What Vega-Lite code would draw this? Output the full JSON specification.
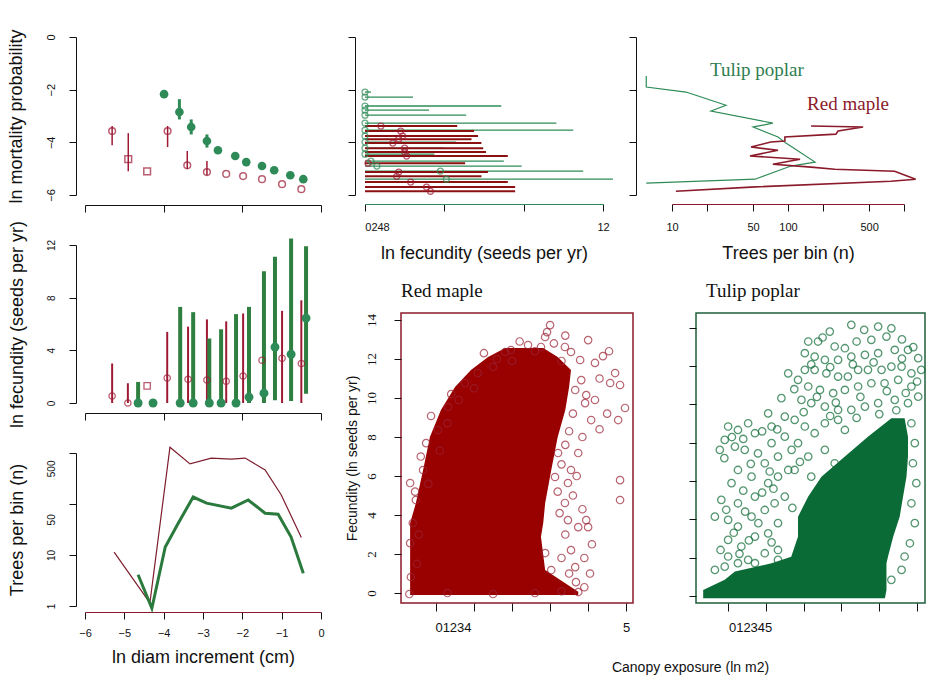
{
  "$schema": "https://vega.github.io/schema/vega-lite/v6.json",
  "background": "white",
  "padding": {"left": 7, "top": 28, "right": 0, "bottom": 0},
  "bounds": "flush",
  "spacing": 280,
  "datasets": {
    "mort": [
      {"sp": "Red maple", "x": -5.31, "y": -3.57, "lo": -4.11, "hi": -3.38, "sample": "normal"},
      {"sp": "Red maple", "x": -4.9, "y": -4.64, "lo": -5.1, "hi": -3.65, "sample": "small"},
      {"sp": "Red maple", "x": -4.42, "y": -5.1, "sample": "small"},
      {"sp": "Red maple", "x": -3.9, "y": -3.57, "lo": -4.18, "hi": -3.38, "sample": "normal"},
      {"sp": "Red maple", "x": -3.4, "y": -4.87, "lo": -5.02, "hi": -4.33, "sample": "normal"},
      {"sp": "Red maple", "x": -2.9, "y": -5.13, "lo": -5.25, "hi": -4.71, "sample": "normal"},
      {"sp": "Red maple", "x": -2.41, "y": -5.2, "sample": "normal"},
      {"sp": "Red maple", "x": -1.98, "y": -5.28, "sample": "normal"},
      {"sp": "Red maple", "x": -1.5, "y": -5.4, "sample": "normal"},
      {"sp": "Red maple", "x": -0.99, "y": -5.59, "sample": "normal"},
      {"sp": "Red maple", "x": -0.5, "y": -5.78, "sample": "normal"},
      {"sp": "Tulip poplar", "x": -3.99, "y": -2.17, "lo": -2.3, "hi": -2.05, "sample": "normal"},
      {"sp": "Tulip poplar", "x": -3.6, "y": -2.85, "lo": -3.13, "hi": -2.36, "sample": "normal"},
      {"sp": "Tulip poplar", "x": -3.3, "y": -3.42, "lo": -3.7, "hi": -3.13, "sample": "normal"},
      {"sp": "Tulip poplar", "x": -2.9, "y": -3.95, "lo": -4.2, "hi": -3.7, "sample": "normal"},
      {"sp": "Tulip poplar", "x": -2.62, "y": -4.3, "sample": "normal"},
      {"sp": "Tulip poplar", "x": -2.18, "y": -4.52, "sample": "normal"},
      {"sp": "Tulip poplar", "x": -1.9, "y": -4.75, "sample": "normal"},
      {"sp": "Tulip poplar", "x": -1.5, "y": -4.9, "sample": "normal"},
      {"sp": "Tulip poplar", "x": -1.19, "y": -5.06, "sample": "normal"},
      {"sp": "Tulip poplar", "x": -0.78, "y": -5.25, "sample": "normal"},
      {"sp": "Tulip poplar", "x": -0.45, "y": -5.4, "sample": "normal"}
    ],
    "fec": [
      {"sp": "Red maple", "x": -5.31, "y": 0.53, "lo": 0, "hi": 3.0, "sample": "normal"},
      {"sp": "Red maple", "x": -4.91, "y": 0, "lo": 0, "hi": 1.5, "sample": "normal"},
      {"sp": "Red maple", "x": -4.42, "y": 1.3, "sample": "small"},
      {"sp": "Red maple", "x": -3.91, "y": 1.9, "lo": 0, "hi": 5.4, "sample": "normal"},
      {"sp": "Red maple", "x": -3.38, "y": 1.8, "lo": 0, "hi": 5.8, "sample": "normal"},
      {"sp": "Red maple", "x": -2.9, "y": 1.75, "lo": 0, "hi": 6.35, "sample": "normal"},
      {"sp": "Red maple", "x": -2.41, "y": 1.65, "lo": 0, "hi": 6.2, "sample": "normal"},
      {"sp": "Red maple", "x": -1.98, "y": 2.05, "lo": 0, "hi": 6.8, "sample": "normal"},
      {"sp": "Red maple", "x": -1.5, "y": 3.25, "sample": "normal"},
      {"sp": "Red maple", "x": -0.99, "y": 3.4, "lo": 0, "hi": 7.0, "sample": "normal"},
      {"sp": "Red maple", "x": -0.5, "y": 3.0, "lo": 0, "hi": 7.8, "sample": "normal"},
      {"sp": "Tulip poplar", "x": -4.65, "y": 0, "lo": 0, "hi": 1.6, "sample": "normal"},
      {"sp": "Tulip poplar", "x": -4.27, "y": 0, "sample": "normal"},
      {"sp": "Tulip poplar", "x": -3.58, "y": 0, "lo": 0, "hi": 7.3, "sample": "normal"},
      {"sp": "Tulip poplar", "x": -3.25, "y": 0, "lo": 0, "hi": 6.9, "sample": "normal"},
      {"sp": "Tulip poplar", "x": -2.84, "y": 0, "lo": 0, "hi": 4.9, "sample": "normal"},
      {"sp": "Tulip poplar", "x": -2.54, "y": 0, "lo": 0, "hi": 5.6, "sample": "normal"},
      {"sp": "Tulip poplar", "x": -2.16, "y": 0, "lo": 0, "hi": 6.75, "sample": "normal"},
      {"sp": "Tulip poplar", "x": -1.83, "y": 0.45, "lo": 0, "hi": 7.3, "sample": "normal"},
      {"sp": "Tulip poplar", "x": -1.45, "y": 0.75, "lo": 0, "hi": 10.0, "sample": "normal"},
      {"sp": "Tulip poplar", "x": -1.17, "y": 4.25, "lo": 0.2, "hi": 11.1, "sample": "normal"},
      {"sp": "Tulip poplar", "x": -0.76, "y": 3.7, "lo": 0.15, "hi": 12.5, "sample": "normal"},
      {"sp": "Tulip poplar", "x": -0.38, "y": 6.45, "lo": 0.7, "hi": 11.9, "sample": "normal"}
    ],
    "trees": [
      {"sp": "Red maple", "x": -5.26, "n": 11.4},
      {"sp": "Red maple", "x": -4.35, "n": 1.15},
      {"sp": "Red maple", "x": -3.84, "n": 1300},
      {"sp": "Red maple", "x": -3.33, "n": 610},
      {"sp": "Red maple", "x": -2.79, "n": 795},
      {"sp": "Red maple", "x": -2.28, "n": 760},
      {"sp": "Red maple", "x": -1.93, "n": 795},
      {"sp": "Red maple", "x": -1.42, "n": 465},
      {"sp": "Red maple", "x": -1.01, "n": 150},
      {"sp": "Red maple", "x": -0.5, "n": 22},
      {"sp": "Tulip poplar", "x": -4.65, "n": 4.1},
      {"sp": "Tulip poplar", "x": -4.3, "n": 0.9},
      {"sp": "Tulip poplar", "x": -3.96, "n": 14.4},
      {"sp": "Tulip poplar", "x": -3.63, "n": 42},
      {"sp": "Tulip poplar", "x": -3.25, "n": 137},
      {"sp": "Tulip poplar", "x": -2.91, "n": 104},
      {"sp": "Tulip poplar", "x": -2.28, "n": 83},
      {"sp": "Tulip poplar", "x": -1.85, "n": 120},
      {"sp": "Tulip poplar", "x": -1.42, "n": 66},
      {"sp": "Tulip poplar", "x": -1.09, "n": 63},
      {"sp": "Tulip poplar", "x": -0.76, "n": 22.5},
      {"sp": "Tulip poplar", "x": -0.45, "n": 4.4}
    ],
    "fecbin": [
      {"sp": "Tulip poplar", "m": -2.09, "lo": 0, "hi": 0.3, "est": 0},
      {"sp": "Tulip poplar", "m": -2.28, "lo": 0, "hi": 2.42, "est": 0},
      {"sp": "Tulip poplar", "m": -2.62, "lo": 0, "hi": 6.87, "est": 0},
      {"sp": "Tulip poplar", "m": -2.78, "lo": 0, "hi": 3.23, "est": 0},
      {"sp": "Tulip poplar", "m": -2.97, "lo": 0, "hi": 5.1, "est": 0},
      {"sp": "Tulip poplar", "m": -3.27, "lo": 0, "hi": 9.65, "est": 0},
      {"sp": "Tulip poplar", "m": -3.54, "lo": 0, "hi": 10.5, "est": 0},
      {"sp": "Tulip poplar", "m": -3.76, "lo": 0, "hi": 4.0, "est": 0},
      {"sp": "Tulip poplar", "m": -3.99, "lo": 0, "hi": 4.6, "est": 0},
      {"sp": "Tulip poplar", "m": -4.22, "lo": 0, "hi": 4.0, "est": 0},
      {"sp": "Tulip poplar", "m": -4.45, "lo": 0, "hi": 3.5, "est": 0},
      {"sp": "Tulip poplar", "m": -4.71, "lo": 0, "hi": 7.0, "est": 0.3},
      {"sp": "Tulip poplar", "m": -4.9, "lo": 0, "hi": 7.9, "est": 0.6},
      {"sp": "Tulip poplar", "m": -5.09, "lo": 0, "hi": 11.0, "est": 3.8},
      {"sp": "Tulip poplar", "m": -5.4, "lo": 0, "hi": 12.5, "est": 4.1},
      {"sp": "Red maple", "m": -3.38, "lo": 0, "hi": 4.65, "est": 0.8},
      {"sp": "Red maple", "m": -3.57, "lo": 0, "hi": 5.5, "est": 1.8},
      {"sp": "Red maple", "m": -3.76, "lo": 0, "hi": 5.7, "est": 1.9},
      {"sp": "Red maple", "m": -3.88, "lo": 0, "hi": 5.37, "est": 1.7},
      {"sp": "Red maple", "m": -4.03, "lo": 0, "hi": 5.87, "est": 1.4},
      {"sp": "Red maple", "m": -4.22, "lo": 0, "hi": 5.96, "est": 2.0},
      {"sp": "Red maple", "m": -4.37, "lo": 0, "hi": 6.1, "est": 2.0},
      {"sp": "Red maple", "m": -4.52, "lo": 0, "hi": 7.2, "est": 2.1},
      {"sp": "Red maple", "m": -4.79, "lo": 0, "hi": 5.05, "est": 0.15},
      {"sp": "Red maple", "m": -5.13, "lo": 0, "hi": 6.2, "est": 1.7},
      {"sp": "Red maple", "m": -5.29, "lo": 0, "hi": 5.87, "est": 1.6},
      {"sp": "Red maple", "m": -5.51, "lo": 0, "hi": 7.2, "est": 2.3},
      {"sp": "Red maple", "m": -5.7, "lo": 0, "hi": 7.57, "est": 3.1},
      {"sp": "Red maple", "m": -5.86, "lo": 0, "hi": 7.57, "est": 3.3}
    ],
    "nbin": [
      {"sp": "Tulip poplar", "i": 1, "n": 6.0, "m": -1.48},
      {"sp": "Tulip poplar", "i": 2, "n": 6.0, "m": -1.9},
      {"sp": "Tulip poplar", "i": 3, "n": 13.2, "m": -2.09},
      {"sp": "Tulip poplar", "i": 4, "n": 16.8, "m": -2.24},
      {"sp": "Tulip poplar", "i": 5, "n": 29.2, "m": -2.59},
      {"sp": "Tulip poplar", "i": 6, "n": 21.7, "m": -2.81},
      {"sp": "Tulip poplar", "i": 7, "n": 74, "m": -3.27},
      {"sp": "Tulip poplar", "i": 8, "n": 50, "m": -3.42},
      {"sp": "Tulip poplar", "i": 9, "n": 82, "m": -3.8},
      {"sp": "Tulip poplar", "i": 10, "n": 96, "m": -4.03},
      {"sp": "Tulip poplar", "i": 11, "n": 171, "m": -4.75},
      {"sp": "Tulip poplar", "i": 12, "n": 106, "m": -4.9},
      {"sp": "Tulip poplar", "i": 13, "n": 52, "m": -5.4},
      {"sp": "Tulip poplar", "i": 14, "n": 6.0, "m": -5.55},
      {"sp": "Red maple", "i": 1, "n": 158, "m": -3.38},
      {"sp": "Red maple", "i": 2, "n": 444, "m": -3.42},
      {"sp": "Red maple", "i": 3, "n": 270, "m": -3.57},
      {"sp": "Red maple", "i": 4, "n": 259, "m": -3.69},
      {"sp": "Red maple", "i": 5, "n": 94, "m": -3.8},
      {"sp": "Red maple", "i": 6, "n": 94, "m": -3.95},
      {"sp": "Red maple", "i": 7, "n": 71, "m": -3.99},
      {"sp": "Red maple", "i": 8, "n": 48, "m": -4.18},
      {"sp": "Red maple", "i": 9, "n": 82, "m": -4.3},
      {"sp": "Red maple", "i": 10, "n": 47, "m": -4.52},
      {"sp": "Red maple", "i": 11, "n": 127, "m": -4.64},
      {"sp": "Red maple", "i": 12, "n": 74, "m": -4.83},
      {"sp": "Red maple", "i": 13, "n": 158, "m": -4.94},
      {"sp": "Red maple", "i": 14, "n": 253, "m": -5.02},
      {"sp": "Red maple", "i": 15, "n": 830, "m": -5.1},
      {"sp": "Red maple", "i": 16, "n": 1260, "m": -5.4},
      {"sp": "Red maple", "i": 17, "n": 770, "m": -5.48},
      {"sp": "Red maple", "i": 18, "n": 48, "m": -5.7},
      {"sp": "Red maple", "i": 19, "n": 10.8, "m": -5.86}
    ],
    "nlabels": [
      {"sp": "Tulip poplar", "label": "Tulip poplar", "n": 54, "m": -1.25},
      {"sp": "Red maple", "label": "Red maple", "n": 329, "m": -2.55}
    ],
    "rm_core": [
      {"fec": -0.1, "xl": -0.68, "xr": 3.74},
      {"fec": 0.07, "xl": -0.68, "xr": 3.74},
      {"fec": 1.18, "xl": -0.68, "xr": 2.87},
      {"fec": 2.89, "xl": -0.68, "xr": 2.76},
      {"fec": 3.59, "xl": -0.68, "xr": 2.82},
      {"fec": 4.6, "xl": -0.53, "xr": 2.87},
      {"fec": 6.3, "xl": -0.34, "xr": 3.03},
      {"fec": 8.0, "xl": -0.16, "xr": 3.2},
      {"fec": 9.38, "xl": 0.13, "xr": 3.4},
      {"fec": 10.56, "xl": 0.5, "xr": 3.5},
      {"fec": 11.44, "xl": 0.92, "xr": 3.55},
      {"fec": 12.1, "xl": 1.37, "xr": 3.2},
      {"fec": 12.56, "xl": 1.82, "xr": 2.82}
    ],
    "rm_pts": [
      {"ce": 3.0, "fec": 13.74}, {"ce": 2.92, "fec": 13.38}, {"ce": 2.87, "fec": 13.13}, {"ce": 1.26, "fec": 12.3},
      {"ce": 4.0, "fec": 12.97}, {"ce": 4.39, "fec": 12.15}, {"ce": 4.18, "fec": 11.8}, {"ce": 4.71, "fec": 11.28},
      {"ce": 4.84, "fec": 10.67}, {"ce": 4.58, "fec": 10.77}, {"ce": 4.97, "fec": 9.49}, {"ce": 4.79, "fec": 8.87},
      {"ce": 3.95, "fec": 10.15}, {"ce": 3.92, "fec": 9.74}, {"ce": 4.18, "fec": 9.9}, {"ce": 4.08, "fec": 8.87},
      {"ce": 3.74, "fec": 7.18}, {"ce": 3.55, "fec": 6.31}, {"ce": 3.47, "fec": 5.64}, {"ce": 3.39, "fec": 4.62},
      {"ce": 3.47, "fec": 3.74}, {"ce": 3.95, "fec": 3.74}, {"ce": 4.0, "fec": 3.38}, {"ce": 3.74, "fec": 3.38},
      {"ce": 3.55, "fec": 2.2}, {"ce": 3.66, "fec": 1.33}, {"ce": 3.68, "fec": 0.56}, {"ce": 3.74, "fec": 0.05},
      {"ce": 4.84, "fec": 5.79}, {"ce": 4.84, "fec": 4.77}, {"ce": -0.13, "fec": 9.08}, {"ce": -0.26, "fec": 7.69},
      {"ce": -0.68, "fec": 5.64}, {"ce": -0.53, "fec": 4.77}, {"ce": -0.34, "fec": 6.31}, {"ce": 0.05, "fec": 8.36},
      {"ce": 0.32, "fec": 9.54}, {"ce": 0.76, "fec": 10.77}, {"ce": 1.1, "fec": 11.28}, {"ce": 1.82, "fec": 12.36},
      {"ce": 1.97, "fec": 12.46}, {"ce": 2.42, "fec": 12.72}, {"ce": 2.76, "fec": 12.62}, {"ce": 3.39, "fec": 12.62},
      {"ce": 3.55, "fec": 12.36}, {"ce": 3.79, "fec": 11.95}, {"ce": 3.82, "fec": 10.92}, {"ce": 3.66, "fec": 10.41},
      {"ce": 3.21, "fec": 7.18}, {"ce": 3.13, "fec": 5.95}, {"ce": 2.87, "fec": 2.05}, {"ce": 3.03, "fec": 1.18},
      {"ce": -0.66, "fec": 0.82}, {"ce": -0.68, "fec": 2.56}, {"ce": -0.61, "fec": 3.59},
      {"ce": 3.3, "fec": 11.9}, {"ce": 3.6, "fec": 9.2}, {"ce": 3.5, "fec": 8.3}, {"ce": 3.4, "fec": 7.6},
      {"ce": 3.3, "fec": 6.6}, {"ce": 3.2, "fec": 5.2}, {"ce": 3.25, "fec": 4.1}, {"ce": 3.4, "fec": 3.0},
      {"ce": 3.3, "fec": 1.8}, {"ce": 3.5, "fec": 1.0}, {"ce": 3.9, "fec": 0.3}, {"ce": -0.5, "fec": 1.5},
      {"ce": -0.45, "fec": 3.0}, {"ce": -0.2, "fec": 5.6}, {"ce": 0.1, "fec": 7.3}, {"ce": 0.3, "fec": 8.7},
      {"ce": 0.6, "fec": 9.9}, {"ce": 1.0, "fec": 10.5}, {"ce": 1.5, "fec": 11.6}, {"ce": 2.2, "fec": 12.9},
      {"ce": 2.6, "fec": 12.4}, {"ce": 3.1, "fec": 12.8}, {"ce": 2.0, "fec": 11.9}, {"ce": -0.7, "fec": -0.05},
      {"ce": 0.3, "fec": 0.0}, {"ce": 1.5, "fec": -0.05}, {"ce": 2.6, "fec": 0.0}, {"ce": 3.3, "fec": 0.1},
      {"ce": 3.85, "fec": 4.3}, {"ce": 4.1, "fec": 2.5}, {"ce": 3.9, "fec": 1.8}, {"ce": 4.05, "fec": 1.0},
      {"ce": 3.6, "fec": 5.0}, {"ce": 3.7, "fec": 6.0}, {"ce": 3.85, "fec": 8.0}, {"ce": 4.3, "fec": 8.4},
      {"ce": 4.5, "fec": 9.2}, {"ce": 4.3, "fec": 11.0}, {"ce": 4.55, "fec": 12.4}, {"ce": 3.4, "fec": 13.2},
      {"ce": 1.6, "fec": 12.0}, {"ce": 0.4, "fec": 10.2}, {"ce": -0.4, "fec": 7.0}, {"ce": -0.55, "fec": 5.2}
    ],
    "tp_core": [
      {"fec": -0.12, "xl": -0.66, "xr": 4.15},
      {"fec": 0.31, "xl": -0.66, "xr": 4.19},
      {"fec": 0.84, "xl": -0.09, "xr": 4.19},
      {"fec": 1.27, "xl": 0.18, "xr": 4.19},
      {"fec": 1.71, "xl": 1.15, "xr": 4.19},
      {"fec": 2.05, "xl": 1.67, "xr": 4.23},
      {"fec": 3.1, "xl": 1.85, "xr": 4.37},
      {"fec": 4.14, "xl": 1.85, "xr": 4.54},
      {"fec": 5.19, "xl": 2.12, "xr": 4.63},
      {"fec": 6.23, "xl": 2.47, "xr": 4.72},
      {"fec": 7.28, "xl": 3.09, "xr": 4.76},
      {"fec": 8.32, "xl": 3.7, "xr": 4.76},
      {"fec": 9.28, "xl": 4.32, "xr": 4.67}
    ],
    "tp_pts": [
      {"ce": 2.69, "fec": 13.81}, {"ce": 3.26, "fec": 14.16}, {"ce": 3.97, "fec": 14.07}, {"ce": 4.32, "fec": 13.98},
      {"ce": 4.19, "fec": 13.55}, {"ce": 3.79, "fec": 13.38}, {"ce": 3.4, "fec": 13.29}, {"ce": 3.09, "fec": 12.94},
      {"ce": 2.82, "fec": 13.03}, {"ce": 2.38, "fec": 13.29}, {"ce": 2.12, "fec": 13.29}, {"ce": 2.03, "fec": 12.68},
      {"ce": 2.29, "fec": 12.5}, {"ce": 2.56, "fec": 12.33}, {"ce": 2.91, "fec": 12.33}, {"ce": 3.26, "fec": 12.5},
      {"ce": 3.62, "fec": 12.59}, {"ce": 3.97, "fec": 12.68}, {"ce": 4.41, "fec": 12.85}, {"ce": 4.76, "fec": 12.85},
      {"ce": 5.03, "fec": 12.42}, {"ce": 5.11, "fec": 11.81}, {"ce": 4.85, "fec": 11.63}, {"ce": 4.59, "fec": 11.98},
      {"ce": 4.32, "fec": 11.98}, {"ce": 4.06, "fec": 11.81}, {"ce": 3.7, "fec": 11.81}, {"ce": 3.44, "fec": 11.81},
      {"ce": 3.17, "fec": 11.46}, {"ce": 2.91, "fec": 11.46}, {"ce": 2.6, "fec": 11.63}, {"ce": 2.29, "fec": 11.81},
      {"ce": 2.03, "fec": 11.81}, {"ce": 1.85, "fec": 11.29}, {"ce": 2.12, "fec": 10.94}, {"ce": 2.43, "fec": 10.76},
      {"ce": 2.78, "fec": 10.59}, {"ce": 3.09, "fec": 10.76}, {"ce": 3.44, "fec": 10.94}, {"ce": 3.79, "fec": 11.11},
      {"ce": 4.14, "fec": 11.11}, {"ce": 4.5, "fec": 11.29}, {"ce": 4.85, "fec": 10.94}, {"ce": 5.03, "fec": 10.41},
      {"ce": 4.76, "fec": 10.07}, {"ce": 4.41, "fec": 10.24}, {"ce": 3.97, "fec": 10.07}, {"ce": 3.62, "fec": 9.89},
      {"ce": 3.26, "fec": 9.72}, {"ce": 2.91, "fec": 9.72}, {"ce": 2.56, "fec": 9.89}, {"ce": 2.2, "fec": 10.07},
      {"ce": 1.94, "fec": 10.24}, {"ce": 1.59, "fec": 11.63}, {"ce": 1.41, "fec": 10.33}, {"ce": 1.06, "fec": 9.54},
      {"ce": 0.0, "fec": 8.85}, {"ce": 0.26, "fec": 8.67}, {"ce": -0.22, "fec": 7.63}, {"ce": -0.09, "fec": 8.15},
      {"ce": 0.18, "fec": 7.8}, {"ce": 0.53, "fec": 9.02}, {"ce": 0.71, "fec": 8.5}, {"ce": 0.44, "fec": 7.63},
      {"ce": 0.79, "fec": 7.45}, {"ce": 1.15, "fec": 7.98}, {"ce": 0.97, "fec": 6.93}, {"ce": 1.32, "fec": 7.28},
      {"ce": 1.5, "fec": 8.32}, {"ce": 1.68, "fec": 7.63}, {"ce": 0.26, "fec": 6.58}, {"ce": 0.62, "fec": 6.23},
      {"ce": 0.09, "fec": 5.89}, {"ce": -0.18, "fec": 5.02}, {"ce": 0.26, "fec": 4.84}, {"ce": 0.71, "fec": 5.19},
      {"ce": 1.06, "fec": 5.89}, {"ce": 1.32, "fec": 6.23}, {"ce": 1.59, "fec": 6.58}, {"ce": -0.35, "fec": 4.14},
      {"ce": 0.0, "fec": 3.97}, {"ce": 0.26, "fec": 3.62}, {"ce": 0.62, "fec": 4.14}, {"ce": 0.97, "fec": 4.49},
      {"ce": 1.23, "fec": 4.84}, {"ce": 1.5, "fec": 5.19}, {"ce": 0.0, "fec": 2.93}, {"ce": 0.35, "fec": 2.58},
      {"ce": 0.71, "fec": 3.1}, {"ce": 1.06, "fec": 3.27}, {"ce": 1.32, "fec": 3.8}, {"ce": 0.0, "fec": 2.06},
      {"ce": 0.53, "fec": 1.88}, {"ce": 0.97, "fec": 2.23}, {"ce": 1.32, "fec": 2.4}, {"ce": 1.5, "fec": 9.37},
      {"ce": 1.15, "fec": 8.85}, {"ce": 1.76, "fec": 9.2}, {"ce": 2.03, "fec": 8.85}, {"ce": 2.29, "fec": 8.5},
      {"ce": 2.56, "fec": 9.02}, {"ce": 2.91, "fec": 9.2}, {"ce": 3.09, "fec": 8.67}, {"ce": 1.85, "fec": 7.98},
      {"ce": 2.12, "fec": 7.28}, {"ce": 2.56, "fec": 7.63}, {"ce": 2.82, "fec": 6.93}, {"ce": 1.76, "fec": 6.58},
      {"ce": 2.2, "fec": 6.23}, {"ce": 4.85, "fec": 9.02}, {"ce": 4.94, "fec": 7.98}, {"ce": 4.89, "fec": 6.93},
      {"ce": 4.98, "fec": 5.89}, {"ce": 4.85, "fec": 4.84}, {"ce": 4.94, "fec": 3.8}, {"ce": 4.81, "fec": 2.75},
      {"ce": 4.67, "fec": 2.06}, {"ce": 4.59, "fec": 1.36}, {"ce": 4.32, "fec": 0.84}, {"ce": -0.35, "fec": 1.36},
      {"ce": -0.09, "fec": 1.53}, {"ce": 0.26, "fec": 1.71}, {"ce": 0.71, "fec": 1.71}, {"ce": 1.32, "fec": 1.88},
      {"ce": 2.5, "fec": 13.5}, {"ce": 3.6, "fec": 13.9}, {"ce": 4.6, "fec": 13.4}, {"ce": 4.9, "fec": 13.0},
      {"ce": 2.2, "fec": 12.1}, {"ce": 2.7, "fec": 11.95}, {"ce": 3.3, "fec": 12.1}, {"ce": 3.85, "fec": 12.2},
      {"ce": 4.6, "fec": 12.4}, {"ce": 5.0, "fec": 11.2}, {"ce": 4.7, "fec": 10.6}, {"ce": 4.2, "fec": 10.7},
      {"ce": 3.5, "fec": 10.4}, {"ce": 2.85, "fec": 10.1}, {"ce": 2.35, "fec": 10.4}, {"ce": 1.75, "fec": 10.8},
      {"ce": 2.0, "fec": 9.6}, {"ce": 2.7, "fec": 9.4}, {"ce": 3.4, "fec": 9.3}, {"ce": 4.0, "fec": 9.5},
      {"ce": 4.45, "fec": 9.7}, {"ce": 0.1, "fec": 8.3}, {"ce": 0.4, "fec": 8.2}, {"ce": 0.9, "fec": 8.6},
      {"ce": 1.3, "fec": 8.7}, {"ce": -0.1, "fec": 7.2}, {"ce": 0.6, "fec": 6.9}, {"ce": 1.1, "fec": 6.5},
      {"ce": 1.9, "fec": 7.0}, {"ce": 0.4, "fec": 5.5}, {"ce": 0.9, "fec": 5.4}, {"ce": 1.2, "fec": 5.6},
      {"ce": -0.05, "fec": 4.5}, {"ce": 0.45, "fec": 4.4}, {"ce": 0.8, "fec": 3.8}, {"ce": 1.7, "fec": 4.6},
      {"ce": 0.15, "fec": 3.3}, {"ce": 0.55, "fec": 2.9}, {"ce": 1.15, "fec": 2.8}, {"ce": -0.2, "fec": 2.4},
      {"ce": 0.3, "fec": 2.2}
    ]
  },
  "hconcat": [
    {
      "vconcat": [
        {
          "width": 236, "height": 158,
          "data": {"name": "mort"},
          "layer": [
            {
              "mark": {"type": "rule"},
              "encoding": {
                "x": {"field": "x", "type": "quantitative", "scale": {"domain": [-6, 0], "nice": false, "zero": false},
                      "axis": {"offset": 10, "values": [-6, -5, -4, -3, -2, -1, 0], "labels": false, "title": null}},
                "y": {"field": "lo", "type": "quantitative", "scale": {"domain": [-6, 0], "nice": false, "zero": false},
                      "axis": {"offset": 9, "values": [-6, -5, -4, -3, -2, -1, 0], "labelExpr": "datum.value % 2 == 0 ? datum.label : ''",
                               "labelOverlap": false, "labelAngle": -90, "labelAlign": "center", "labelBaseline": "bottom", "labelPadding": 13,
                               "title": "ln mortality probability", "titlePadding": 20}},
                "y2": {"field": "hi"},
                "color": {"condition": {"test": "datum.sp == 'Tulip poplar'", "value": "#2E8B57"}, "value": "#9E1A34"},
                "strokeWidth": {"condition": {"test": "datum.sp == 'Tulip poplar'", "value": 3}, "value": 1.5}
              }
            },
            {
              "transform": [{"filter": "datum.sp == 'Red maple'"}],
              "mark": {"type": "point", "filled": false, "strokeWidth": 1.5, "color": "#9E1A34", "size": 45},
              "encoding": {
                "x": {"field": "x", "type": "quantitative"},
                "y": {"field": "y", "type": "quantitative"},
                "shape": {"field": "sample", "type": "nominal", "scale": {"domain": ["normal", "small"], "range": ["circle", "square"]}, "legend": null}
              }
            },
            {
              "transform": [{"filter": "datum.sp == 'Tulip poplar'"}],
              "mark": {"type": "circle", "color": "#2E8B57", "opacity": 1, "size": 75},
              "encoding": {
                "x": {"field": "x", "type": "quantitative"},
                "y": {"field": "y", "type": "quantitative"}
              }
            }
          ]
        },
        {
          "width": 236, "height": 158,
          "data": {"name": "fec"},
          "layer": [
            {
              "mark": {"type": "rule"},
              "encoding": {
                "x": {"field": "x", "type": "quantitative", "scale": {"domain": [-6, 0], "nice": false, "zero": false},
                      "axis": {"offset": 10, "values": [-6, -5, -4, -3, -2, -1, 0], "labels": false, "title": null}},
                "y": {"field": "lo", "type": "quantitative", "scale": {"domain": [0, 12], "nice": false, "zero": false},
                      "axis": {"offset": 9, "values": [0, 2, 4, 6, 8, 10, 12], "labelOverlap": false, "labelAngle": -90, "labelAlign": "center",
                               "labelBaseline": "bottom", "labelPadding": 13, "labelFontSize": 10,
                               "title": "ln fecundity (seeds per yr)", "titlePadding": 20}},
                "y2": {"field": "hi"},
                "color": {"condition": {"test": "datum.sp == 'Tulip poplar'", "value": "#2F8040"}, "value": "#9E1A34"},
                "strokeWidth": {"condition": {"test": "datum.sp == 'Tulip poplar'", "value": 4}, "value": 2}
              }
            },
            {
              "transform": [{"filter": "datum.sp == 'Red maple'"}],
              "mark": {"type": "point", "filled": false, "strokeWidth": 1.3, "color": "#9E1A34", "size": 40},
              "encoding": {
                "x": {"field": "x", "type": "quantitative"},
                "y": {"field": "y", "type": "quantitative"},
                "shape": {"field": "sample", "type": "nominal", "scale": {"domain": ["normal", "small"], "range": ["circle", "square"]}, "legend": null}
              }
            },
            {
              "transform": [{"filter": "datum.sp == 'Tulip poplar'"}],
              "mark": {"type": "circle", "color": "#2E8B57", "opacity": 1, "size": 80},
              "encoding": {
                "x": {"field": "x", "type": "quantitative"},
                "y": {"field": "y", "type": "quantitative"}
              }
            }
          ]
        },
        {
          "width": 236, "height": 153,
          "data": {"name": "trees"},
          "mark": {"type": "line"},
          "encoding": {
            "x": {"field": "x", "type": "quantitative", "scale": {"domain": [-6, 0], "nice": false, "zero": false},
                  "axis": {"offset": 6, "values": [-6, -5, -4, -3, -2, -1, 0], "labelOverlap": false, "labelPadding": 8, "domainColor": "#8B1A2B",
                           "title": "ln diam increment (cm)", "titlePadding": 10}},
            "y": {"field": "n", "type": "quantitative", "scale": {"type": "log", "domain": [1, 1000], "nice": false},
                  "axis": {"offset": 9, "values": [1, 10, 50, 100, 500, 1000],
                           "labelExpr": "(datum.value == 100 || datum.value == 1000) ? '' : format(datum.value, 'd')",
                           "tickOpacity": {"condition": {"test": "datum.value == 50 || datum.value == 500", "value": 0}, "value": 1},
                           "labelOverlap": false, "labelAngle": -90, "labelAlign": "center", "labelBaseline": "bottom", "labelPadding": 13, "labelFontSize": 10,
                           "title": "Trees per bin (n)", "titlePadding": 20}},
            "detail": {"field": "sp", "type": "nominal"},
            "color": {"condition": {"test": "datum.sp == 'Tulip poplar'", "value": "#2A7A3D"}, "value": "#7D1D2E"},
            "strokeWidth": {"condition": {"test": "datum.sp == 'Tulip poplar'", "value": 3}, "value": 1.2}
          }
        }
      ],
      "spacing": 50,
      "bounds": "flush"
    },
    {
      "vconcat": [
        {
          "hconcat": [
            {
              "width": 238, "height": 158,
              "data": {"name": "fecbin"},
              "layer": [
                {
                  "mark": {"type": "rule"},
                  "encoding": {
                    "x": {"field": "lo", "type": "quantitative", "scale": {"domain": [0, 12], "nice": false, "zero": false},
                          "axis": {"offset": 9, "values": [0, 2, 4, 6, 8, 10, 12],
                                   "labelExpr": "datum.value < 1 ? '0248' : (datum.value > 9 ? format(datum.value, 'd') : ' ')",
                                   "labelOverlap": false, "labelBound": false,
                                   "labelOffset": {"condition": {"test": "datum.value < 1", "value": 12}, "value": 0},
                                   "labelPadding": 10, "domainColor": "#2E8B57",
                                   "title": "ln fecundity (seeds per yr)", "titlePadding": 12}},
                    "x2": {"field": "hi"},
                    "y": {"field": "m", "type": "quantitative", "scale": {"domain": [-6, 0], "nice": false, "zero": false},
                          "axis": {"offset": 10, "values": [-6, -5, -4, -3, -2, -1, 0], "labels": false, "title": null}},
                    "color": {"condition": {"test": "datum.sp == 'Tulip poplar'", "value": "#2E8B57"}, "value": "#8B1010"},
                    "strokeWidth": {"condition": {"test": "datum.sp == 'Tulip poplar'", "value": 1.3}, "value": 2}
                  }
                },
                {
                  "transform": [{"filter": "datum.sp == 'Red maple'"}],
                  "mark": {"type": "point", "filled": false, "strokeWidth": 1.3, "color": "#9E1A34", "size": 35},
                  "encoding": {"x": {"field": "est", "type": "quantitative"}, "y": {"field": "m", "type": "quantitative"}}
                },
                {
                  "transform": [{"filter": "datum.sp == 'Tulip poplar'"}],
                  "mark": {"type": "point", "filled": false, "strokeWidth": 1.3, "color": "#2E8B57", "size": 35},
                  "encoding": {"x": {"field": "est", "type": "quantitative"}, "y": {"field": "m", "type": "quantitative"}}
                }
              ]
            },
            {
              "width": 232, "height": 158,
              "layer": [
                {
                  "data": {"name": "nbin"},
                  "mark": {"type": "line"},
                  "encoding": {
                    "x": {"field": "n", "type": "quantitative", "scale": {"type": "log", "domain": [10, 1000], "nice": false},
                          "axis": {"offset": 9, "values": [10, 20, 50, 100, 200, 500, 1000],
                                   "labelExpr": "(datum.value == 10 || datum.value == 50 || datum.value == 100 || datum.value == 500) ? format(datum.value, 'd') : ''",
                                   "labelOverlap": false, "labelPadding": 10, "domainColor": "#8B1A2B",
                                   "title": "Trees per bin (n)", "titlePadding": 12}},
                    "y": {"field": "m", "type": "quantitative", "scale": {"domain": [-6, 0], "nice": false, "zero": false},
                          "axis": {"offset": 36, "values": [-6, -5, -4, -3, -2, -1, 0], "labels": false, "title": null}},
                    "order": {"field": "i", "type": "quantitative"},
                    "detail": {"field": "sp", "type": "nominal"},
                    "color": {"condition": {"test": "datum.sp == 'Tulip poplar'", "value": "#2E8B57"}, "value": "#8B1A2B"},
                    "strokeWidth": {"condition": {"test": "datum.sp == 'Tulip poplar'", "value": 1.2}, "value": 1.6}
                  }
                },
                {
                  "data": {"name": "nlabels"},
                  "mark": {"type": "text", "font": "Liberation Serif", "fontSize": 19},
                  "encoding": {
                    "x": {"field": "n", "type": "quantitative"},
                    "y": {"field": "m", "type": "quantitative"},
                    "text": {"field": "label"},
                    "color": {"condition": {"test": "datum.sp == 'Tulip poplar'", "value": "#2E7D4F"}, "value": "#8B1A2B"}
                  }
                }
              ]
            }
          ],
          "spacing": 69,
          "bounds": "flush"
        },
        {
          "hconcat": [
            {"width": 26, "height": 290, "data": {"values": []}, "mark": "point"},
            {
              "hconcat": [
                {
                  "width": 232, "height": 290,
                  "title": {"text": "Red maple", "offset": 12, "frame": "group"},
                  "view": {"stroke": "#8B1A2B", "strokeWidth": 1.5},
                  "layer": [
                    {
                      "data": {"name": "rm_core"},
                      "mark": {"type": "area", "orient": "horizontal", "color": "#990000", "opacity": 1},
                      "encoding": {
                        "y": {"field": "fec", "type": "quantitative", "scale": {"domain": [-0.51, 14.36], "nice": false, "zero": false},
                              "axis": {"values": [0, 2, 4, 6, 8, 10, 12, 14], "domain": false, "labelOverlap": false, "labelAngle": -90, "labelAlign": "center",
                                       "labelBaseline": "bottom", "labelFont": "Liberation Serif", "labelFontSize": 13, "labelPadding": 16,
                                       "title": "Fecundity (ln seeds per yr)", "titleFontSize": 14, "titlePadding": 6}},
                        "x": {"field": "xl", "type": "quantitative", "scale": {"domain": [-0.92, 5.18], "nice": false, "zero": false},
                              "axis": {"values": [0, 1, 2, 3, 4, 5], "domain": false, "tickSize": 8,
                                       "labelExpr": "datum.value == 0 ? '01234' : (datum.value == 5 ? '5' : '')",
                                       "labelOverlap": false,
                                       "labelOffset": {"condition": {"test": "datum.value == 0", "value": 17}, "value": 0},
                                       "labelFontSize": 13, "labelPadding": 10,
                                       "title": "Canopy exposure (ln m2)", "titleFontSize": 14, "titleX": 289, "titleY": 57, "titleAlign": "center"}},
                        "x2": {"field": "xr"}
                      }
                    },
                    {
                      "data": {"name": "rm_pts"},
                      "mark": {"type": "point", "filled": false, "color": "#9B2335", "strokeWidth": 1.2, "size": 55},
                      "encoding": {
                        "x": {"field": "ce", "type": "quantitative"},
                        "y": {"field": "fec", "type": "quantitative"}
                      }
                    }
                  ]
                },
                {
                  "width": 229, "height": 290,
                  "title": {"text": "Tulip poplar", "offset": 12, "dx": 10, "frame": "group"},
                  "view": {"stroke": "#1E5E3A", "strokeWidth": 1.5},
                  "layer": [
                    {
                      "data": {"name": "tp_core"},
                      "mark": {"type": "area", "orient": "horizontal", "color": "#0B6B36", "opacity": 1},
                      "encoding": {
                        "y": {"field": "fec", "type": "quantitative", "scale": {"domain": [-0.37, 14.78], "nice": false, "zero": false},
                              "axis": {"values": [0, 2, 4, 6, 8, 10, 12, 14], "domain": false, "labels": false, "title": null}},
                        "x": {"field": "xl", "type": "quantitative", "scale": {"domain": [-0.85, 5.21], "nice": false, "zero": false},
                              "axis": {"values": [0, 1, 2, 3, 4, 5], "domain": false, "tickSize": 8,
                                       "labelExpr": "datum.value == 0 ? '012345' : ''",
                                       "labelOverlap": false,
                                       "labelOffset": {"condition": {"test": "datum.value == 0", "value": 22}, "value": 0},
                                       "labelFontSize": 13, "labelPadding": 10, "title": null}},
                        "x2": {"field": "xr"}
                      }
                    },
                    {
                      "data": {"name": "tp_pts"},
                      "mark": {"type": "point", "filled": false, "color": "#0D6B35", "strokeWidth": 1.3, "size": 55},
                      "encoding": {
                        "x": {"field": "ce", "type": "quantitative"},
                        "y": {"field": "fec", "type": "quantitative"}
                      }
                    }
                  ]
                }
              ],
              "spacing": 63,
              "bounds": "flush"
            }
          ],
          "spacing": 10,
          "bounds": "flush"
        }
      ],
      "spacing": 276,
      "bounds": "flush"
    }
  ],
  "config": {
    "view": {"stroke": null},
    "font": "Liberation Sans",
    "axis": {
      "grid": false, "labelFont": "Liberation Sans", "titleFont": "Liberation Sans",
      "labelColor": "#111111", "titleColor": "#111111", "tickColor": "#111111", "domainColor": "#111111",
      "titleFontWeight": "normal", "labelFontSize": 11, "titleFontSize": 18, "tickSize": 7,
      "labelFlush": false, "labelOverlap": false, "domainWidth": 1, "tickWidth": 1
    },
    "title": {"font": "Liberation Serif", "fontSize": 19, "fontWeight": "normal", "anchor": "start", "color": "#111111"}
  }
}
